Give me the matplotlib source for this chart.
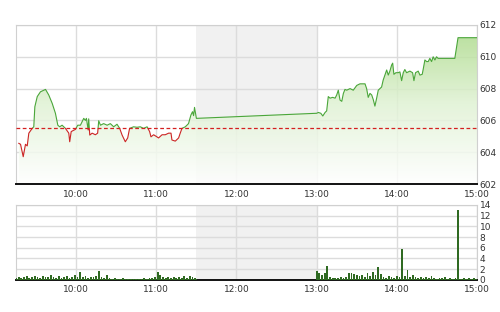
import numpy as np
import matplotlib
matplotlib.use("Agg")
import matplotlib.pyplot as plt
from matplotlib.colors import LinearSegmentedColormap
from matplotlib.patches import Rectangle

# price line: minutes after 09:00 and index value
price_min = [17.1, 18.4, 20.4, 22.1, 23.4, 24.6, 27.1, 28.3, 29.1, 30.9, 33.3, 37.1, 39.5,
             42.1, 44.5, 46.3, 47.7, 49.5, 52.0, 54.5, 55.2, 56.3, 59.5, 61.2, 63.2, 65.7,
             66.9, 67.7, 69.0, 69.4, 70.2, 72.0, 74.4, 76.1, 76.9, 78.2, 80.6, 83.2, 85.6,
             88.1, 90.6, 92.6, 94.4, 96.8, 98.6, 100.0, 103.0, 105.6, 108.0, 110.5, 113.1,
             115.0, 116.0, 118.0, 121.7, 124.3, 126.7, 129.2, 131.0, 131.7, 134.2, 136.7,
             137.9, 139.2, 141.7, 144.1, 145.9, 147.1, 147.9, 148.6, 150.0,
             240.0, 241.3, 243.1, 244.6, 246.3, 247.5, 248.7, 250.0, 252.0, 253.8, 255.0,
             256.2, 257.5, 258.8, 260.0, 261.2, 262.5, 265.0, 267.4, 270.0, 272.4, 274.9,
             276.2, 277.4, 278.6, 279.9, 281.2, 282.4, 283.6, 284.9, 286.1, 287.4, 288.6,
             289.8, 291.1, 292.4, 293.6, 294.8, 296.1, 296.9, 297.8, 299.3, 301.0, 302.3,
             303.6, 304.8, 306.0, 307.3, 309.8, 311.8, 312.8, 314.0, 316.0, 317.3, 319.0,
             319.7, 321.0, 322.3, 323.5, 324.7, 326.0, 327.2, 328.5, 329.7, 330.9, 343.4,
             345.8, 357.1, 360.0]
price_val = [604.56, 604.5, 603.72, 604.5, 604.4, 605.2, 605.5, 605.6, 606.86, 607.5, 607.8,
             607.95, 607.6, 607.07, 606.45, 605.7, 605.6, 605.7, 605.5, 605.2, 604.66, 605.3,
             605.44, 605.7, 605.7, 606.13, 606.0, 606.13, 605.4, 606.1, 605.08, 605.2, 605.1,
             605.2, 605.98, 605.7, 605.8, 605.7, 605.8, 605.6, 605.76, 605.5, 605.08, 604.66,
             604.9, 605.5, 605.6, 605.57, 605.6, 605.5, 605.6, 605.3, 604.97, 605.1, 604.9,
             605.1, 605.1, 605.2, 605.2, 604.77, 604.7, 604.9, 605.2, 605.5, 605.6, 605.8,
             606.34, 606.55, 606.3, 606.82, 606.13,
             606.45, 606.5, 606.45, 606.28, 606.5, 606.6, 607.5, 607.4, 607.45, 607.4, 607.6,
             607.9, 607.28, 607.2, 607.7, 607.95, 607.9, 608.0, 607.9, 608.2, 608.3, 608.3,
             608.3, 608.0, 607.45, 607.7, 607.6, 607.3, 606.9, 607.4, 607.9, 608.0, 608.1,
             608.54, 608.85, 609.17, 608.85, 609.1, 609.48, 609.6, 608.9, 609.0, 609.0,
             609.05, 608.5, 609.0, 609.2, 609.0, 609.1, 609.0, 608.5, 609.0, 609.1, 608.85,
             608.9, 609.2, 609.8, 609.7, 609.7, 609.9, 609.7, 610.0, 609.8, 610.0, 609.9,
             609.9, 611.2, 611.2, 611.2]
ref_price = 605.52

# volume: minutes after 09:00 and volume
vol_min = [15, 17, 19, 21, 23, 25, 27, 29, 31, 33, 35, 37, 39, 41, 43, 45, 47, 49, 51, 53,
           55, 57, 59, 61, 63, 65, 67, 69, 71, 73, 75, 77, 79, 81, 83, 85, 87, 89, 91, 93,
           95, 97, 99, 101, 103, 105, 107, 109, 111, 113, 115, 117, 119, 121, 123, 125, 127,
           129, 131, 133, 135, 137, 139, 141, 143, 145, 147, 149,
           240, 242, 244, 246, 248, 250, 252, 254, 256, 258, 260, 262, 264, 266, 268, 270,
           272, 274, 276, 278, 280, 282, 284, 286, 288, 290, 292, 294, 296, 298, 300, 302,
           304, 306, 308, 310, 312, 314, 316, 318, 320, 322, 324, 326, 328, 330, 332, 334,
           336, 338, 340, 342, 344, 346, 348, 350, 352, 354, 356, 358]
vol_val = [0.4, 0.6, 0.3, 0.5, 0.7, 0.4, 0.6, 0.8, 0.5, 0.4, 0.7, 0.5, 0.6, 0.9, 0.5, 0.4,
           0.7, 0.3, 0.6, 0.8, 0.4, 0.5, 0.9, 0.6, 1.5, 0.5, 0.7, 0.4, 0.6, 0.5, 0.8, 1.7,
           0.5, 0.4, 0.9, 0.3, 0.2, 0.3, 0.2, 0.1, 0.3, 0.2, 0.1, 0.2, 0.2, 0.1, 0.2, 0.1,
           0.3, 0.2, 0.3, 0.4, 0.6, 1.4, 0.9, 0.6, 0.4, 0.5, 0.3, 0.6, 0.4, 0.5, 0.3, 0.7,
           0.4, 0.8, 0.5, 0.3,
           1.7, 1.2, 1.0, 1.3, 2.6, 0.5, 0.3, 0.4, 0.3, 0.5, 0.4, 0.6, 1.2, 1.3, 1.1, 1.0,
           0.8, 1.0, 0.6, 1.3, 0.7, 1.5, 1.0, 2.4, 1.1, 0.6, 0.3, 0.8, 0.5, 0.4, 0.7, 0.6,
           5.8, 0.8, 1.9, 0.6, 0.9, 0.5, 0.4, 0.6, 0.3, 0.5, 0.4, 0.7, 0.3, 0.2, 0.4, 0.3,
           0.5, 0.2, 0.3, 0.2, 0.3, 13.0, 0.2, 0.3, 0.1, 0.3, 0.2, 0.4]

hour_ticks = [60, 120, 180, 240, 300, 360]
hour_labels = ["10:00", "11:00", "12:00", "13:00", "14:00", "15:00"]

x0, x1 = 15, 360
grid_c = "#dcdcdc"
txt_c = "#333333"

fig = plt.figure(figsize=(5, 3.12), dpi=100)
ax = fig.add_axes([0.032, 0.41, 0.922, 0.51])
axv = fig.add_axes([0.032, 0.103, 0.922, 0.24])

def style(a):
    a.set_xlim(x0, x1)
    a.set_xticks(hour_ticks)
    a.set_xticklabels(hour_labels)
    a.yaxis.tick_right()
    a.tick_params(axis="both", length=0, labelsize=6.5, colors=txt_c, pad=2)
    a.tick_params(axis="x", pad=4)
    a.grid(True, color=grid_c, lw=1)
    a.set_axisbelow(True)
    a.axvspan(150, 240, color="#f1f1f1", zorder=0, lw=0)
    for s in ["left", "top", "right"]:
        a.spines[s].set_color("#d0d0d0")
    a.spines["bottom"].set_color("#111111")
    a.spines["bottom"].set_linewidth(1.4)

# main price chart
style(ax)
ax.set_ylim(602, 612)
ax.set_yticks(np.arange(602, 613, 2))

xs = np.array(price_min)
ys = np.array(price_val)
poly = ax.fill_between(xs, ys, 602, color="none", lw=0)
cmap = LinearSegmentedColormap.from_list("g", ["#ffffff", "#e0f2d4", "#a8d885"])
grad = np.linspace(0, 1, 256).reshape(-1, 1)
img = ax.imshow(grad, cmap=cmap, origin="lower", aspect="auto",
                extent=[x0, x1, 602, 612], alpha=0.85, zorder=1)
img.set_clip_path(poly.get_paths()[0], transform=ax.transData)

up = ax.plot(xs, ys, color="#4aa63a", lw=0.8, zorder=3)[0]
dn = ax.plot(xs, ys, color="#cc2525", lw=0.8, zorder=3)[0]
up.set_clip_path(Rectangle((x0, ref_price), x1 - x0, 20, transform=ax.transData))
dn.set_clip_path(Rectangle((x0, 590), x1 - x0, ref_price - 590, transform=ax.transData))
ax.axhline(ref_price, color="#d42020", lw=0.9, ls=(0, (3, 2)), zorder=4)

# volume chart
style(axv)
axv.set_ylim(0, 14)
axv.set_yticks(np.arange(0, 15, 2))
axv.bar(vol_min, vol_val, width=1.3, color="#2f6a22", lw=0, zorder=3)
axv.plot([x0, 150], [0.1, 0.1], color="#2f6a22", lw=0.6, zorder=3)
axv.plot([240, x1], [0.1, 0.1], color="#2f6a22", lw=0.6, zorder=3)

fig.savefig("out.png", dpi=100)
